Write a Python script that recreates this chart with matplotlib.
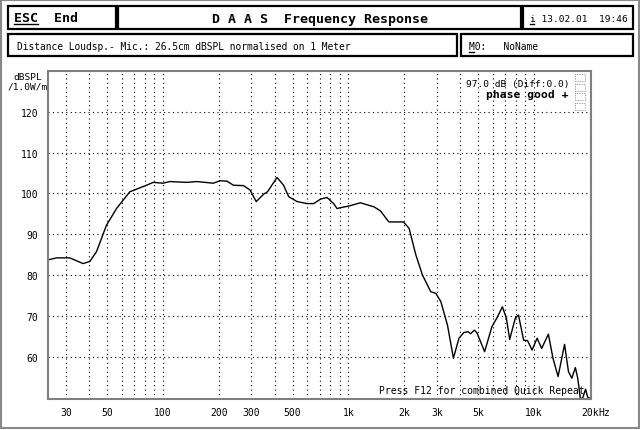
import matplotlib.pyplot as plt
from matplotlib.patches import Rectangle
import numpy as np

freq = [24, 26.7, 31.4, 37.1, 40.3, 43.8, 49.6, 56.2, 66.3, 81.6, 88.6, 100, 109, 134, 152,
        187, 203, 221, 240, 272, 295, 318, 349, 366, 412, 447, 476, 528, 598, 650, 707,
        766, 832, 867, 1025, 1160, 1373, 1488, 1651, 1981, 2124, 2309, 2505, 2777, 2958,
        3146, 3418, 3680, 3942, 4190, 4421, 4550, 4780, 4940, 5420, 5930, 6300, 6760,
        7100, 7400, 7930, 8250, 8800, 9240, 9770, 10400, 11000, 11960, 12660, 13490,
        14620, 15350, 16000, 16720, 17220, 17780, 18300, 18970, 19500, 20000]
spl = [83.7, 84.2, 84.2, 82.8, 83.3, 85.7, 92.2, 96.3, 100.4, 102, 102.7, 102.5, 102.9,
       102.7, 102.9, 102.5, 103.1, 103, 102, 101.9, 100.8, 98, 99.8, 100.4, 103.9, 102,
       99.2, 98, 97.5, 97.5, 98.6, 99, 97.5, 96.3, 97, 97.7, 96.7, 95.7, 93, 93, 91.4,
       84.9, 80, 75.9, 75.5, 73.5, 67.7, 59.6, 64.5, 65.9, 66.1, 65.6, 66.5, 65.7, 61.2,
       67.3, 69.4, 72.2, 69.4, 64.2, 69.4, 70.2, 64, 63.9, 61.6, 64.5, 62, 65.5, 59.6,
       55.1, 63, 56.3, 54.7, 57.3, 54.7, 49.8, 49.8, 52, 50, 49.8]

xticks = [30, 50, 100, 200, 300, 500, 1000, 2000, 3000, 5000, 10000, 20000]
xlabels = ['30', '50', '100', '200', '300', '500', '1k', '2k', '3k', '5k', '10k', '20k']
yticks = [60, 70, 80, 90, 100, 110, 120]

MONO = 'DejaVu Sans Mono'
W, H = 640, 431

fig = plt.figure(figsize=(6.4, 4.31), dpi=100)

# overlay in pixel coordinates for the header boxes
bg = fig.add_axes([0, 0, 1, 1])
bg.set_xlim(0, W)
bg.set_ylim(H, 0)
bg.axis('off')

bg.add_patch(Rectangle((0.5, 0.5), W - 2, H - 2, fill=False, ec='#888888', lw=1.5))

boxes = [(8, 7, 108, 23), (118, 7, 403, 23), (523, 7, 110, 23),
         (8, 35, 449, 22), (461, 35, 172, 22)]
for x, y, w, h in boxes:
    bg.add_patch(Rectangle((x, y), w, h, fill=False, ec='black', lw=1.6))

bg.text(14, 19, 'ESC  End', family=MONO, fontsize=9.5, weight='bold', va='center')
bg.plot([14, 38], [25, 25], color='black', lw=1)
bg.text(320, 20, 'D A A S  Frequency Response', family=MONO, fontsize=9.5,
        weight='bold', va='center', ha='center')
bg.text(530, 19, 'i 13.02.01  19:46', family=MONO, fontsize=6.8, va='center')
bg.plot([530, 534], [25, 25], color='black', lw=1)
bg.text(17, 47, 'Distance Loudsp.- Mic.: 26.5cm dBSPL normalised on 1 Meter',
        family=MONO, fontsize=6.9, va='center')
bg.text(469, 47, 'M0:   NoName', family=MONO, fontsize=6.9, va='center')
bg.plot([469, 474], [53, 53], color='black', lw=1)

bg.text(28, 77, 'dBSPL', family=MONO, fontsize=6.8, va='center', ha='center')
bg.text(28, 87, '/1.0W/m', family=MONO, fontsize=6.8, va='center', ha='center')

ax = fig.add_axes([48 / W, 1 - 400 / H, (591 - 48) / W, (400 - 72) / H])
ax.set_xscale('log')
ax.set_xlim(24, 20300)
ax.set_ylim(49.6, 130)
ax.patch.set_alpha(0)

ax.plot(freq, spl, color='black', lw=1.0)

for y in yticks:
    ax.axhline(y, color='black', lw=0.8, ls=(0, (1, 3)))
grid_f = [f * d for d in (10, 100, 1000, 10000) for f in range(1, 10)]
for f in grid_f:
    if 25 < f < 20300:
        ax.axvline(f, color='black', lw=0.8, ls=(0, (1, 3)))

ax.set_xticks(xticks)
ax.set_xticklabels(xlabels, family=MONO, fontsize=7)
ax.set_xticks([], minor=True)
ax.set_yticks(yticks)
ax.set_yticklabels([str(v) for v in yticks], family=MONO, fontsize=7)
ax.tick_params(length=0, pad=7)
ax.tick_params(axis='x', pad=6)
ax.annotate('Hz', xy=(20000, 0), xycoords=('data', 'axes fraction'),
            xytext=(6.3, -6), textcoords='offset points', family=MONO, fontsize=7,
            ha='left', va='top')

for s in ax.spines.values():
    s.set_color('#808080')
    s.set_linewidth(1.5)

ax.text(0.961, 0.963, '97.0 dB (Diff:0.0)', transform=ax.transAxes, family=MONO,
        fontsize=6.8, ha='right', va='center')
ax.text(0.958, 0.929, 'phase good +', transform=ax.transAxes, family=MONO,
        fontsize=8.2, weight='bold', ha='right', va='center')
ax.text(0.61, 0.012, 'Press F12 for combined Quick Repeat', transform=ax.transAxes,
        family=MONO, fontsize=7, ha='left', va='bottom')

# little stacked markers at the top right
for i in range(4):
    bg.add_patch(Rectangle((575, 75 + i * 9.5), 10, 7, fill=False, ec='#888888',
                           lw=0.6, ls=(0, (1, 1))))

fig.savefig('out.png', dpi=100)
